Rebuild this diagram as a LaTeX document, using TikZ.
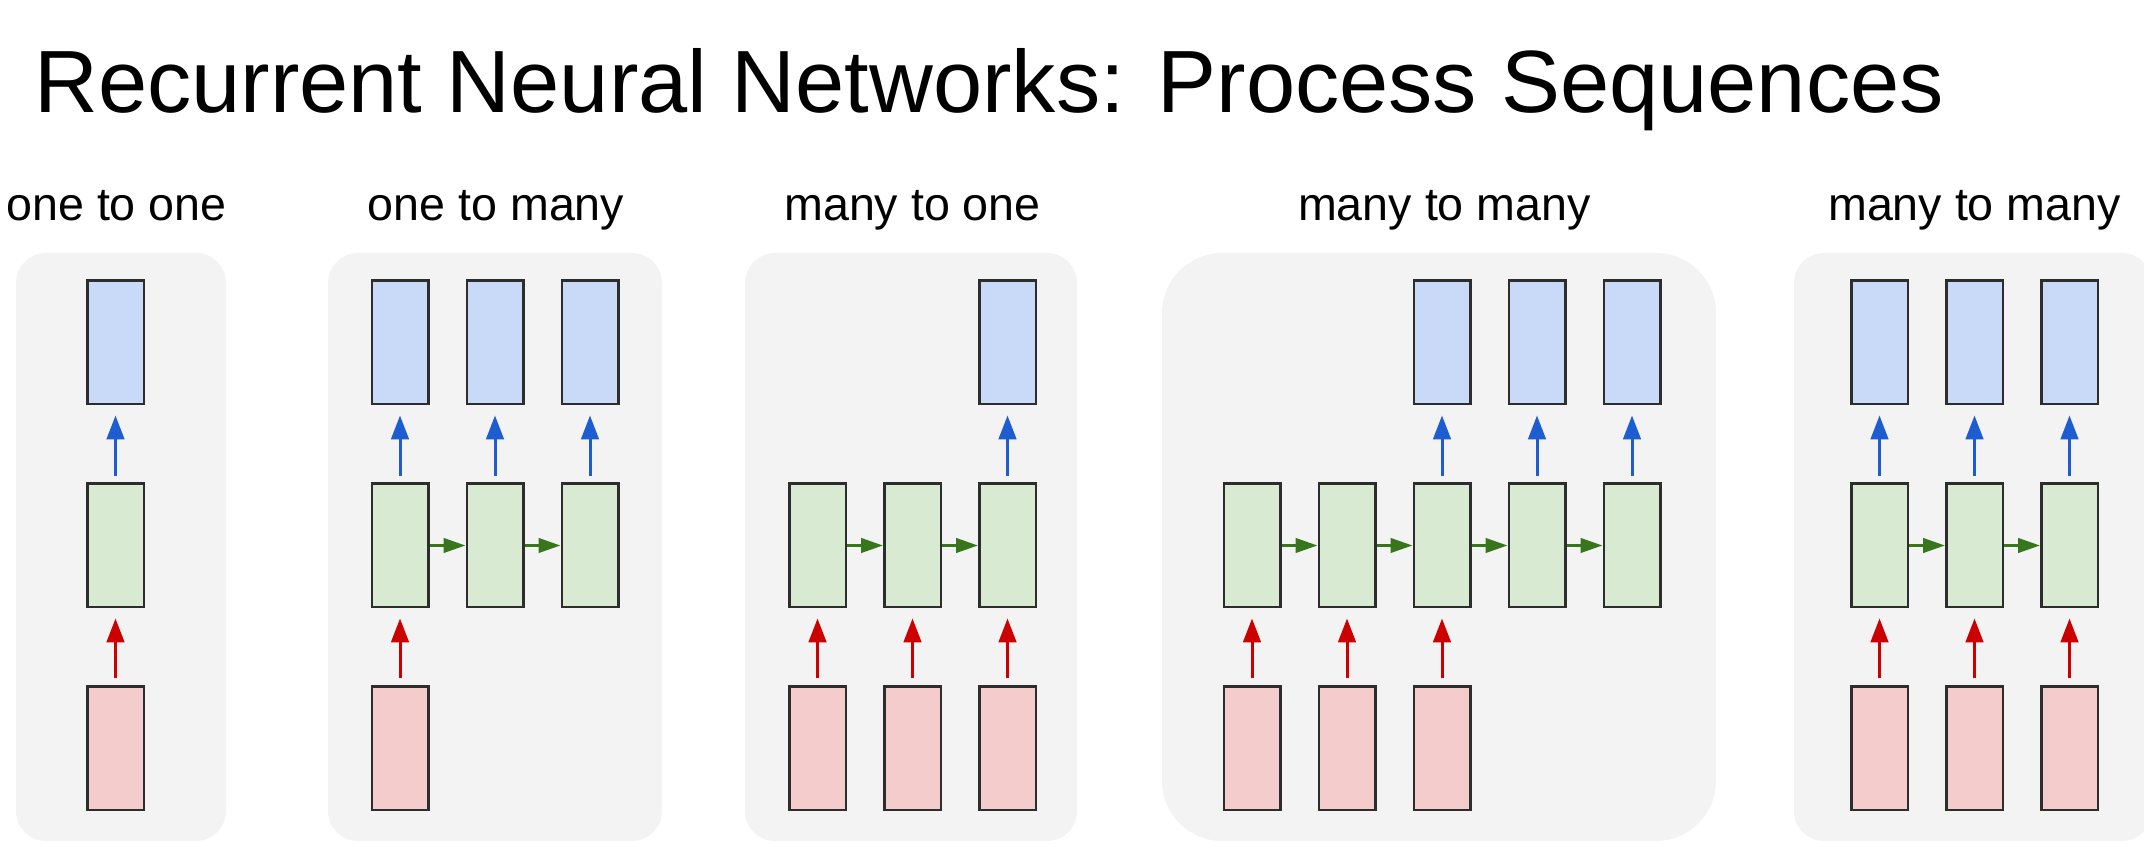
\documentclass[tikz,border=0pt]{standalone}
\usepackage{fontspec}
\setmainfont{Liberation Sans}
\usetikzlibrary{arrows.meta,positioning}
\definecolor{panelgray}{RGB}{243,243,243}
\definecolor{outblue}{RGB}{201,218,248}
\definecolor{hidgreen}{RGB}{217,234,211}
\definecolor{inred}{RGB}{244,204,204}
\definecolor{boxline}{RGB}{45,45,45}
\definecolor{arrblue}{RGB}{30,92,210}
\definecolor{arrred}{RGB}{204,0,0}
\definecolor{arrgreen}{RGB}{56,118,29}

\begin{document}
\begin{tikzpicture}[x=0.5pt, y=-0.5pt, node distance=38.5pt and 18pt,
    cell/.style={draw=boxline, line width=1.25pt, minimum width=28.25pt, minimum height=61.75pt, inner sep=0pt},
    outbox/.style={cell, fill=outblue},
    hidbox/.style={cell, fill=hidgreen},
    inbox/.style={cell, fill=inred},
    panel/.style={fill=panelgray, rounded corners=15pt},
    heading/.style={font=\fontsize{23.3pt}{28pt}\selectfont, anchor=base},
    outarr/.style={arrblue, line width=1.5pt, -{Triangle[length=12pt,width=8.8pt]}, shorten <=3pt, shorten >=5pt},
    inarr/.style={arrred, line width=1.5pt, -{Triangle[length=12pt,width=8.8pt]}, shorten <=3.5pt, shorten >=5pt},
    recarr/.style={arrgreen, line width=1.5pt, -{Triangle[length=11pt,width=7.2pt]}}]
    \useasboundingbox (0,0) rectangle (2144,854);

    % title and panel headings
    \node[anchor=base west, inner sep=0pt, font=\fontsize{44.2pt}{53pt}\selectfont] (title) at (34,113) {Recurrent Neural Networks: Process Sequences};
    \node[heading] (oto-label) at (116.5,221) {one to one};
    \node[heading] (otm-label) at (496,221) {one to many};
    \node[heading] (mto-label) at (912.5,221) {many to one};
    \node[heading] (mtm-label) at (1444.5,221) {many to many};
    \node[heading] (sync-label) at (1974.5,221) {many to many};

    % grey panels
    \fill[panel] (16,253) rectangle (226,841);
    \fill[panel] (328,253) rectangle (662,841);
    \fill[panel] (745,253) rectangle (1077,841);
    \fill[panel, rounded corners=30pt] (1162,253) rectangle (1716,841);
    \fill[panel] (1794,253) rectangle (2152,841);

    % one to one
    \node[hidbox] (oto-h) at (115.5,545.5) {};
    \node[outbox, above=of oto-h] (oto-y) {};
    \node[inbox, below=of oto-h] (oto-x) {};
    \draw[inarr] (oto-x) -- (oto-h);
    \draw[outarr] (oto-h) -- (oto-y);

    % one to many
    \node[hidbox] (otm-h1) at (400,545.5) {};
    \node[hidbox, right=of otm-h1] (otm-h2) {};
    \node[hidbox, right=of otm-h2] (otm-h3) {};
    \node[outbox, above=of otm-h1] (otm-y1) {};
    \node[outbox, above=of otm-h2] (otm-y2) {};
    \node[outbox, above=of otm-h3] (otm-y3) {};
    \node[inbox, below=of otm-h1] (otm-x1) {};
    \draw[inarr] (otm-x1) -- (otm-h1);
    \draw[recarr] (otm-h1) -- (otm-h2);
    \draw[recarr] (otm-h2) -- (otm-h3);
    \draw[outarr] (otm-h1) -- (otm-y1);
    \draw[outarr] (otm-h2) -- (otm-y2);
    \draw[outarr] (otm-h3) -- (otm-y3);

    % many to one
    \node[hidbox] (mto-h1) at (817.5,545.5) {};
    \node[hidbox, right=of mto-h1] (mto-h2) {};
    \node[hidbox, right=of mto-h2] (mto-h3) {};
    \node[outbox, above=of mto-h3] (mto-y3) {};
    \node[inbox, below=of mto-h1] (mto-x1) {};
    \node[inbox, below=of mto-h2] (mto-x2) {};
    \node[inbox, below=of mto-h3] (mto-x3) {};
    \draw[inarr] (mto-x1) -- (mto-h1);
    \draw[inarr] (mto-x2) -- (mto-h2);
    \draw[inarr] (mto-x3) -- (mto-h3);
    \draw[recarr] (mto-h1) -- (mto-h2);
    \draw[recarr] (mto-h2) -- (mto-h3);
    \draw[outarr] (mto-h3) -- (mto-y3);

    % many to many, delayed outputs
    \node[hidbox] (mtm-h1) at (1252,545.5) {};
    \node[hidbox, right=of mtm-h1] (mtm-h2) {};
    \node[hidbox, right=of mtm-h2] (mtm-h3) {};
    \node[hidbox, right=of mtm-h3] (mtm-h4) {};
    \node[hidbox, right=of mtm-h4] (mtm-h5) {};
    \node[outbox, above=of mtm-h3] (mtm-y3) {};
    \node[outbox, above=of mtm-h4] (mtm-y4) {};
    \node[outbox, above=of mtm-h5] (mtm-y5) {};
    \node[inbox, below=of mtm-h1] (mtm-x1) {};
    \node[inbox, below=of mtm-h2] (mtm-x2) {};
    \node[inbox, below=of mtm-h3] (mtm-x3) {};
    \draw[inarr] (mtm-x1) -- (mtm-h1);
    \draw[inarr] (mtm-x2) -- (mtm-h2);
    \draw[inarr] (mtm-x3) -- (mtm-h3);
    \draw[recarr] (mtm-h1) -- (mtm-h2);
    \draw[recarr] (mtm-h2) -- (mtm-h3);
    \draw[recarr] (mtm-h3) -- (mtm-h4);
    \draw[recarr] (mtm-h4) -- (mtm-h5);
    \draw[outarr] (mtm-h3) -- (mtm-y3);
    \draw[outarr] (mtm-h4) -- (mtm-y4);
    \draw[outarr] (mtm-h5) -- (mtm-y5);

    % many to many, synced
    \node[hidbox] (sync-h1) at (1879.5,545.5) {};
    \node[hidbox, right=of sync-h1] (sync-h2) {};
    \node[hidbox, right=of sync-h2] (sync-h3) {};
    \node[outbox, above=of sync-h1] (sync-y1) {};
    \node[outbox, above=of sync-h2] (sync-y2) {};
    \node[outbox, above=of sync-h3] (sync-y3) {};
    \node[inbox, below=of sync-h1] (sync-x1) {};
    \node[inbox, below=of sync-h2] (sync-x2) {};
    \node[inbox, below=of sync-h3] (sync-x3) {};
    \draw[inarr] (sync-x1) -- (sync-h1);
    \draw[inarr] (sync-x2) -- (sync-h2);
    \draw[inarr] (sync-x3) -- (sync-h3);
    \draw[recarr] (sync-h1) -- (sync-h2);
    \draw[recarr] (sync-h2) -- (sync-h3);
    \draw[outarr] (sync-h1) -- (sync-y1);
    \draw[outarr] (sync-h2) -- (sync-y2);
    \draw[outarr] (sync-h3) -- (sync-y3);
\end{tikzpicture}
\end{document}
